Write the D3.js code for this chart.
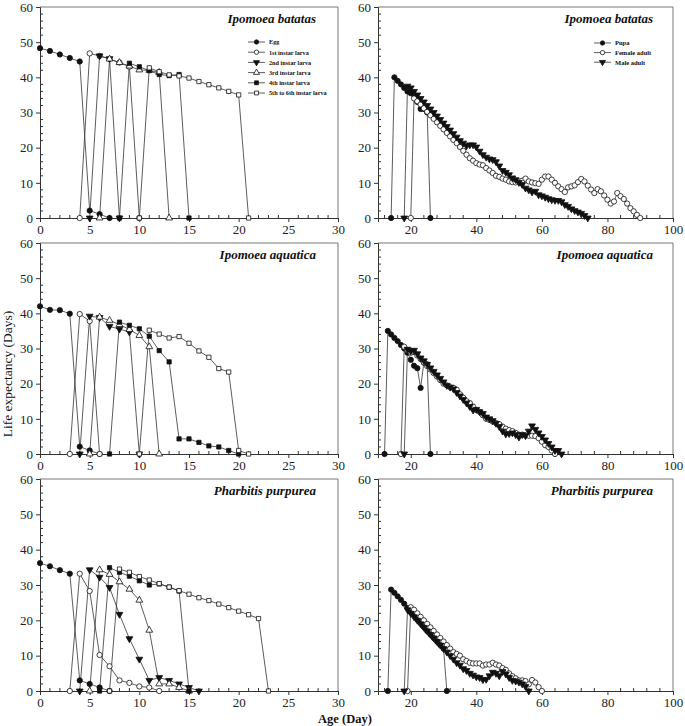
<!DOCTYPE html>
<html><head><meta charset="utf-8">
<script src="https://cdn.jsdelivr.net/npm/d3@7"></script>
<style>body{margin:0;background:#fff}</style>
</head><body>
<svg id="c" width="685" height="726"></svg>
<script>
// ---------- DATA ----------
const hosts = ["Ipomoea batatas", "Ipomoea aquatica", "Pharbitis purpurea"];
const larvaStages = ["Egg", "1st instar larva", "2nd instar larva", "3rd instar larva", "4th instar larva", "5th to 6th instar larva"];
const adultStages = ["Pupa", "Female adult", "Male adult"];
const yTicks = [0, 10, 20, 30, 40, 50, 60];
const xTicksLarva = [0, 5, 10, 15, 20, 25, 30];
const xTicksAdult = [20, 40, 60, 80, 100];

// each series: first age (day) and life expectancy from that age on, one value per day
// Ipomoea batatas – immature stages
const ibEggStart = 0, ibEgg = [48.3, 47.5, 46.5, 45.5, 44.5, 2.1, 1.1, 0];
const ibL1Start = 4, ibL1 = [0, 46.8, 46.1, 45.2, 44.2, 43.0, 0];
const ibL2Start = 5, ibL2 = [0, 46.1, 45.3, 0];
const ibL3Start = 6, ibL3 = [0, 45.2, 44.2, 43.2, 42.1, 42.0, 41.4, 0];
const ibL4Start = 8, ibL4 = [0, 44.0, 43.0, 41.9, 40.8, 40.5, 40.8, 0];
const ibL5Start = 10, ibL5 = [0, 42.7, 41.6, 40.7, 40.4, 39.8, 38.8, 37.9, 37.0, 36.0, 35.0, 0];
// Ipomoea batatas – pupa and adults
const ibPupaStart = 14, ibPupa = [0, 40, 39, 38, 37, 36, 35.5, 35, 33, 31, 31, 30, 0];
const ibFemaleStart = 20, ibFemale = [0, 34, 33.2, 32.3, 31.2, 30.2, 29.2, 28.2, 27.2, 26.2, 25.2, 24.2, 23.2, 22.2, 21.3, 20.2, 19.1, 18, 17, 16.3, 15.6, 15.2, 15, 14.2, 13.5, 12.8, 12, 11.7, 11.2, 10.9, 10.4, 10.2, 10.1, 10.4, 10.6, 11.2, 10.4, 10.1, 9.9, 9.7, 10.9, 11.8, 11.8, 10.9, 10, 9, 8.2, 7.4, 8.7, 9, 9.3, 10.2, 11.1, 10.4, 9.2, 8.1, 7.1, 8.2, 7.6, 6.4, 5.2, 4.1, 4.7, 7.1, 6.2, 5.4, 4.1, 2.8, 1.9, 0.9, 0];
const ibMaleStart = 18, ibMale = [0, 37.5, 37, 36, 35, 34, 33, 32, 31, 30, 29, 28, 27, 26, 25, 24, 23, 22, 21.3, 20.5, 20.8, 20.8, 20.2, 19, 18, 17.3, 16.8, 16.6, 16, 14.8, 13.5, 13, 12.3, 11.4, 10.9, 10.1, 9.5, 8.5, 8, 7.4, 7.6, 6.6, 6.3, 5.9, 5.5, 5.2, 5, 5, 4.6, 3.8, 3.3, 2.6, 2.1, 1.7, 1.3, 0.7, 0];

// Ipomoea aquatica – immature stages
const iaEggStart = 0, iaEgg = [42, 41, 40.9, 39.9, 2.1, 1.0, 0];
const iaL1Start = 3, iaL1 = [0, 39.8, 37.8, 0];
const iaL2Start = 4, iaL2 = [0, 39.2, 38.8, 36.3, 35.5, 34.7, 0];
const iaL3Start = 5, iaL3 = [0, 38.9, 38, 36.8, 35.4, 33.7, 30.5, 0];
const iaL4Start = 7, iaL4 = [0, 37.5, 36.6, 35.6, 33.5, 29.4, 26.2, 4.3, 4.3, 3.3, 2.3, 2, 1, 0];
const iaL5Start = 10, iaL5 = [0, 35.2, 34.1, 33.0, 33.4, 31.5, 29.3, 27.5, 24.3, 23.3, 1, 0];
// Ipomoea aquatica – pupa and adults
const iaPupaStart = 12, iaPupa = [0, 35, 34, 33, 32.1, 31, 30, 28.8, 26.8, 25.1, 24.4, 18.8, 26, 25.5, 0];
const iaFemaleStart = 17, iaFemale = [0, 30.5, 29.5, 28.8, 29, 28, 27, 26, 25, 24, 23, 22, 21, 20, 19.5, 19, 18.8, 18.3, 17, 16, 15, 14.5, 13.5, 12.5, 12, 11, 10, 9.7, 9.2, 8.8, 8.5, 7.8, 7.2, 6.8, 6.5, 6, 5.5, 5.5, 5.3, 5.2, 5.2, 5.1, 4.5, 3.5, 2.5, 2, 1, 0];
const iaMaleStart = 18, iaMale = [0, 29.8, 29.3, 29.5, 28.5, 27.3, 26.5, 25.5, 24.5, 23.5, 22.5, 21.5, 20.5, 19.5, 19, 18.5, 17.5, 16.5, 15.5, 14.5, 13.5, 12.5, 12.7, 12, 11.5, 10.5, 10, 9.5, 8.7, 7.8, 6.5, 5.7, 5.8, 6, 5.5, 4.8, 5.5, 5.2, 6.5, 8, 7, 6, 5, 4, 3, 2, 1, 1, 0];

// Pharbitis purpurea – immature stages
const ppEggStart = 0, ppEgg = [36.2, 35.3, 34.2, 33.2, 3, 2, 1, 0];
const ppL1Start = 3, ppL1 = [0, 33.2, 28.3, 10.2, 7, 3, 2.3, 1.3, 1, 0];
const ppL2Start = 4, ppL2 = [0, 34.3, 32.2, 29.3, 21.7, 14.8, 9, 3, 3.8, 3, 2, 1, 0];
const ppL3Start = 5, ppL3 = [0, 34.3, 33, 30.9, 28.8, 25.7, 17.2, 2, 2, 1, 0];
const ppL4Start = 6, ppL4 = [0, 34.9, 33.6, 32.5, 31.2, 30, 30.3, 29.4, 28.3, 0];
const ppL5Start = 7, ppL5 = [0, 34.5, 33.6, 32.4, 31.4, 30.4, 29.4, 28.4, 27.4, 26.4, 25.6, 24.6, 23.6, 22.6, 21.6, 20.5, 0];
// Pharbitis purpurea – pupa and adults
const ppPupaStart = 13, ppPupa = [0, 28.7, 27.8, 26.8, 25.8, 24.7, 23.5, 22.3, 21.3, 20.2, 19.2, 18.1, 17, 16, 15, 14, 13, 12, 0];
const ppFemaleStart = 19, ppFemale = [0, 23.7, 23, 22, 21, 20, 19, 18, 17, 16, 15, 14, 13, 12, 11, 10.5, 10, 9, 8.5, 8, 7.8, 7.8, 7.8, 7.2, 7.5, 7.5, 8, 7.5, 7.2, 6.5, 6, 5, 4.2, 3.6, 3, 3, 2.8, 1.9, 3.1, 2.4, 1.1, 0];
const ppMaleStart = 18, ppMale = [0, 23, 22, 21, 20, 19, 18, 17, 16, 15, 14, 13, 12, 11, 10, 9, 8, 7.3, 6.3, 5.8, 5, 4.5, 4, 3.8, 3.2, 3.3, 4.3, 5.3, 5, 4.3, 5.5, 4.8, 3.8, 3, 2.8, 2.5, 2, 1.3, 0];

// ---------- STYLE / LAYOUT ----------
const larvaMarkers = [
  {shape: d3.symbolCircle, fill: "#111", rot: 0},
  {shape: d3.symbolCircle, fill: "#fff", rot: 0},
  {shape: d3.symbolTriangle, fill: "#111", rot: 180},
  {shape: d3.symbolTriangle, fill: "#fff", rot: 0},
  {shape: d3.symbolSquare, fill: "#111", rot: 0},
  {shape: d3.symbolSquare, fill: "#fff", rot: 0}
];
const adultMarkers = [larvaMarkers[0], larvaMarkers[1], larvaMarkers[2]];

const toPts = (start, vals) => vals.map((v, i) => [start + i, v]);

const panels = [
  {host: 0, kind: "larva", row: 0, col: 0, legend: true,
   series: [toPts(ibEggStart, ibEgg), toPts(ibL1Start, ibL1), toPts(ibL2Start, ibL2), toPts(ibL3Start, ibL3), toPts(ibL4Start, ibL4), toPts(ibL5Start, ibL5)]},
  {host: 0, kind: "adult", row: 0, col: 1, legend: true,
   series: [toPts(ibPupaStart, ibPupa), toPts(ibFemaleStart, ibFemale), toPts(ibMaleStart, ibMale)]},
  {host: 1, kind: "larva", row: 1, col: 0,
   series: [toPts(iaEggStart, iaEgg), toPts(iaL1Start, iaL1), toPts(iaL2Start, iaL2), toPts(iaL3Start, iaL3), toPts(iaL4Start, iaL4), toPts(iaL5Start, iaL5)]},
  {host: 1, kind: "adult", row: 1, col: 1,
   series: [toPts(iaPupaStart, iaPupa), toPts(iaFemaleStart, iaFemale), toPts(iaMaleStart, iaMale)]},
  {host: 2, kind: "larva", row: 2, col: 0,
   series: [toPts(ppEggStart, ppEgg), toPts(ppL1Start, ppL1), toPts(ppL2Start, ppL2), toPts(ppL3Start, ppL3), toPts(ppL4Start, ppL4), toPts(ppL5Start, ppL5)]},
  {host: 2, kind: "adult", row: 2, col: 1,
   series: [toPts(ppPupaStart, ppPupa), toPts(ppFemaleStart, ppFemale), toPts(ppMaleStart, ppMale)]}
];

const colX = [[40, 338], [378, 673]];
const rowY = [[7, 218], [243, 454], [479, 691]];
const FONT = "Liberation Serif, Times New Roman, serif";

const svg = d3.select("#c");
svg.append("rect").attr("width", 685).attr("height", 726).attr("fill", "#fff");

function marker(g, m, x, y, size) {
  g.append("path")
    .attr("d", d3.symbol().type(m.shape).size(size)())
    .attr("transform", `translate(${x},${y}) rotate(${m.rot})`)
    .attr("fill", m.fill).attr("stroke", "#111").attr("stroke-width", 0.8);
}

panels.forEach(p => {
  const [x0, x1] = colX[p.col];
  const [yTop, yBot] = rowY[p.row];
  const larva = p.kind === "larva";
  const x = d3.scaleLinear().domain(larva ? [0, 30] : [10, 100]).range([x0, x1]);
  const y = d3.scaleLinear().domain([0, 60]).range([yBot, yTop]);
  const g = svg.append("g");

  // frame (top/right)
  g.append("path").attr("d", `M${x0},${yTop}H${x1}V${yBot}`)
    .attr("fill", "none").attr("stroke", "#777").attr("stroke-width", 1);

  // y axis
  const ya = d3.axisLeft(y).tickValues(yTicks).tickSize(4).tickPadding(3).tickFormat(d3.format("d"));
  const yg = g.append("g").attr("transform", `translate(${x0},0)`).call(ya);
  const yMinor = d3.range(0, 61, 2).filter(v => v % 10 !== 0);
  yg.selectAll(".minor").data(yMinor).enter().append("line").attr("class", "minor")
    .attr("x1", 0).attr("x2", 3).attr("y1", d => y(d)).attr("y2", d => y(d)).attr("stroke", "#333");

  // x axis
  const xa = d3.axisBottom(x).tickValues(larva ? xTicksLarva : xTicksAdult).tickSize(4).tickPadding(3).tickFormat(d3.format("d"));
  const xg = g.append("g").attr("transform", `translate(0,${yBot})`).call(xa);
  const xMinor = larva ? d3.range(0, 31, 1).filter(v => v % 5 !== 0) : d3.range(12, 101, 4).filter(v => v % 20 !== 0);
  xg.selectAll(".minor").data(xMinor).enter().append("line").attr("class", "minor")
    .attr("x1", d => x(d)).attr("x2", d => x(d)).attr("y1", 0).attr("y2", -3).attr("stroke", "#333");

  [yg, xg].forEach(a => {
    a.select(".domain").attr("stroke", "#333");
    a.selectAll(".tick line").attr("stroke", "#333");
    a.selectAll("text").attr("font-family", FONT).attr("font-size", 13).attr("fill", "#222");
  });

  // series lines
  const line = d3.line().x(d => x(d[0])).y(d => y(d[1]));
  const markers = larva ? larvaMarkers : adultMarkers;
  p.series.forEach(s => {
    g.append("path").attr("d", line(s)).attr("fill", "none").attr("stroke", "#333").attr("stroke-width", 0.8);
  });
  p.series.forEach((s, i) => {
    const m = markers[i];
    const size = m.shape === d3.symbolTriangle ? 20 : (m.shape === d3.symbolSquare ? 18 : 22);
    s.forEach(d => marker(g, m, x(d[0]), y(d[1]), size));
  });

  // title
  g.append("text").attr("x", x1 - (larva ? 22 : 20)).attr("y", yTop + 16).attr("text-anchor", "end")
    .attr("font-family", FONT).attr("font-style", "italic").attr("font-weight", "bold")
    .attr("font-size", 13).attr("fill", "#111").text(hosts[p.host]);

  // legend
  if (p.legend) {
    const names = larva ? larvaStages : adultStages;
    const lx0 = larva ? 248 : 594;
    const ly0 = larva ? 42 : 43;
    const dy = larva ? 10.2 : 9.6;
    names.forEach((n, i) => {
      const yy = ly0 + i * dy;
      g.append("line").attr("x1", lx0).attr("x2", lx0 + 17).attr("y1", yy).attr("y2", yy)
        .attr("stroke", "#333").attr("stroke-width", 0.8);
      marker(g, markers[i], lx0 + 8.5, yy, markers[i].shape === d3.symbolTriangle ? 16 : 15);
      g.append("text").attr("x", lx0 + 21).attr("y", yy + 2.3)
        .attr("font-family", FONT).attr("font-weight", "bold").attr("font-size", larva ? 6.2 : 6.5)
        .attr("fill", "#111").text(n);
    });
  }
});

// axis titles
svg.append("text").attr("transform", "translate(12,374) rotate(-90)").attr("text-anchor", "middle")
  .attr("font-family", FONT).attr("font-size", 13.5).attr("fill", "#111").text("Life expectancy (Days)");
svg.append("text").attr("x", 345).attr("y", 722.5).attr("text-anchor", "middle")
  .attr("font-family", FONT).attr("font-weight", "bold").attr("font-size", 12.5).attr("fill", "#111").text("Age (Day)");
</script>
</body></html>
